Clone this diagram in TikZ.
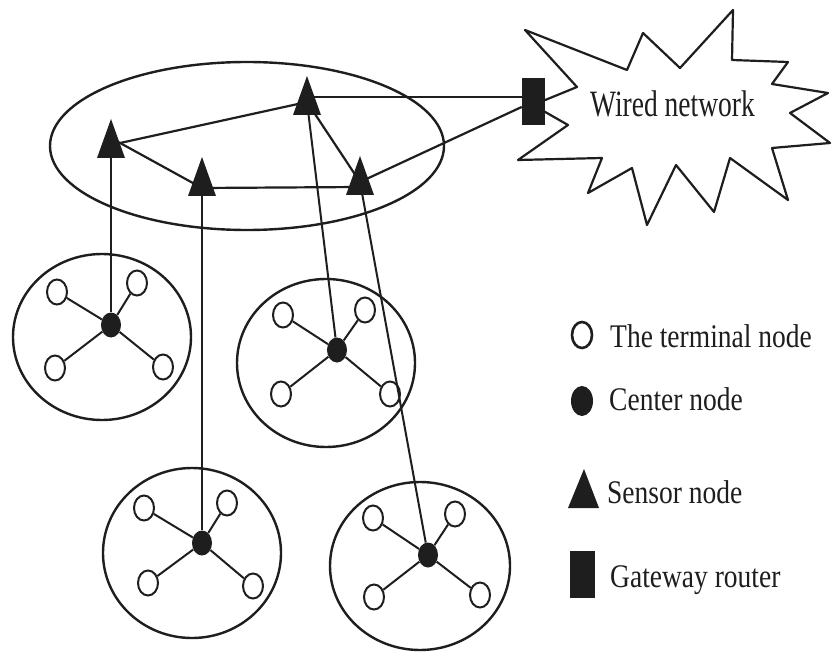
\documentclass[tikz,border=0pt]{standalone}
\usepackage{fontspec}
\setmainfont{Liberation Serif}
\usetikzlibrary{shapes.geometric,calc}
\definecolor{ink}{HTML}{1E1E1E}
\begin{document}
\begin{tikzpicture}[x=1pt,y=-1pt,
  line/.style={draw=ink,line width=2.2pt,line join=round},
  thin/.style={draw=ink,line width=2pt},
  cluster/.style={draw=ink,line width=2.4pt},
  term/.style={ellipse,draw=ink,line width=2pt,fill=white,minimum width=20pt,minimum height=25pt,inner sep=0pt},
  hub/.style={ellipse,fill=ink,minimum width=20pt,minimum height=25pt,inner sep=0pt},
  gate/.style={rectangle,fill=ink,minimum width=23pt,minimum height=47pt,inner sep=0pt},
  lab/.style={font=\fontsize{27.5}{30}\selectfont,text=ink,inner sep=0pt,anchor=base west},
  sensor/.pic={\fill[ink] (0,-26) -- (14,13) -- (-14,13) -- cycle;}
]
\useasboundingbox[fill=white] (0,0) rectangle (832,652);

% big ellipse and cluster rings
\draw[cluster] (247,146) ellipse [x radius=197, y radius=84];
\draw[cluster] (102,337) ellipse [x radius=89, y radius=83];
\draw[cluster] (326,363) ellipse [x radius=89, y radius=84];
\draw[cluster] (192,553) ellipse [x radius=89, y radius=85];
\draw[cluster] (420,566) ellipse [x radius=90, y radius=84];

% wired network burst
\draw[line] (525,30) -- (627,70) -- (643,33) -- (680,68) -- (733,10) -- (732,60)
  -- (788,62) -- (772,84) -- (828,93) -- (790,113) -- (830,143) -- (772,148)
  -- (788,200) -- (730,158) -- (714,212) -- (676,165) -- (647,225) -- (632,168)
  -- (588,193) -- (602,158) -- (518,160) -- (568,125) -- (533,105) -- (577,87) -- cycle;
\node[lab] (wn) at (590,117) {\scalebox{1}[1.35]{Wired network}};

% sensor coordinates
\coordinate (s1) at (111,145);
\coordinate (s2) at (307,102);
\coordinate (s3) at (202,183);
\coordinate (s4) at (360,182);

% gateway
\node[gate] (gw) at (533.5,101.5) {};

% clusters: hubs and terminals
\node[hub] (h1) at (111,325) {};
\node[term] (t1a) at (57,292) {};
\node[term] (t1b) at (137,283) {};
\node[term] (t1c) at (55,368) {};
\node[term] (t1d) at (163,367) {};

\node[hub] (h2) at (337,350) {};
\node[term] (t2a) at (283,315) {};
\node[term] (t2b) at (365,310) {};
\node[term] (t2c) at (281,394) {};
\node[term] (t2d) at (390,394) {};

\node[hub] (h4) at (202,543) {};
\node[term] (t4a) at (144,508) {};
\node[term] (t4b) at (227,503) {};
\node[term] (t4c) at (148,583) {};
\node[term] (t4d) at (253,586) {};

\node[hub] (h5) at (428,555) {};
\node[term] (t5a) at (373,518) {};
\node[term] (t5b) at (455,514) {};
\node[term] (t5c) at (374,597) {};
\node[term] (t5d) at (480,595) {};

\foreach \h/\t in {h1/t1a,h1/t1b,h1/t1c,h1/t1d,h2/t2a,h2/t2b,h2/t2c,h2/t2d,
                   h4/t4a,h4/t4b,h4/t4c,h4/t4d,h5/t5a,h5/t5b,h5/t5c,h5/t5d}
  \draw[thin] (\h) -- (\t);

% sensor links
\draw[line] (s2) -- (s1);
\draw[line] ([yshift=7pt]s1) -- ([yshift=-5pt]s3);
\draw[line] ([yshift=-5pt]s3) -- ([yshift=-5pt]s4);
\draw[line] (s2) -- (s4);
\draw[line] ([yshift=5pt]s2) -- ([yshift=5pt]s2 -| gw.west);
\draw[line] (gw) -- (s4);
\draw[thin] (s1) -- (h1);
\draw[thin] (s3) -- (h4);
\draw[thin] (s2) -- (h2);
\draw[thin] (s4) -- (h5);

\pic at (s1) {sensor};
\pic at (s2) {sensor};
\pic at (s3) {sensor};
\pic at (s4) {sensor};

% legend
\node[term,line width=2.6pt,minimum width=20pt,minimum height=26pt] (lt) at (582,335) {};
\node[lab] (ltx) at (610,347) {\scalebox{1}[1.2]{The terminal node}};
\node[hub,minimum width=22pt,minimum height=30pt] (lc) at (582,401) {};
\node[lab] (lcx) at (609,410) {\scalebox{1}[1.2]{Center node}};
\fill[ink] (584,469) -- (599,508) -- (568,508) -- cycle;
\node[lab] (lsx) at (607,503) {\scalebox{1}[1.2]{Sensor node}};
\node[gate,minimum width=25pt] (lg) at (582.5,574.5) {};
\node[lab] (lgx) at (610,587) {\scalebox{1}[1.2]{Gateway router}};
\end{tikzpicture}
\end{document}
